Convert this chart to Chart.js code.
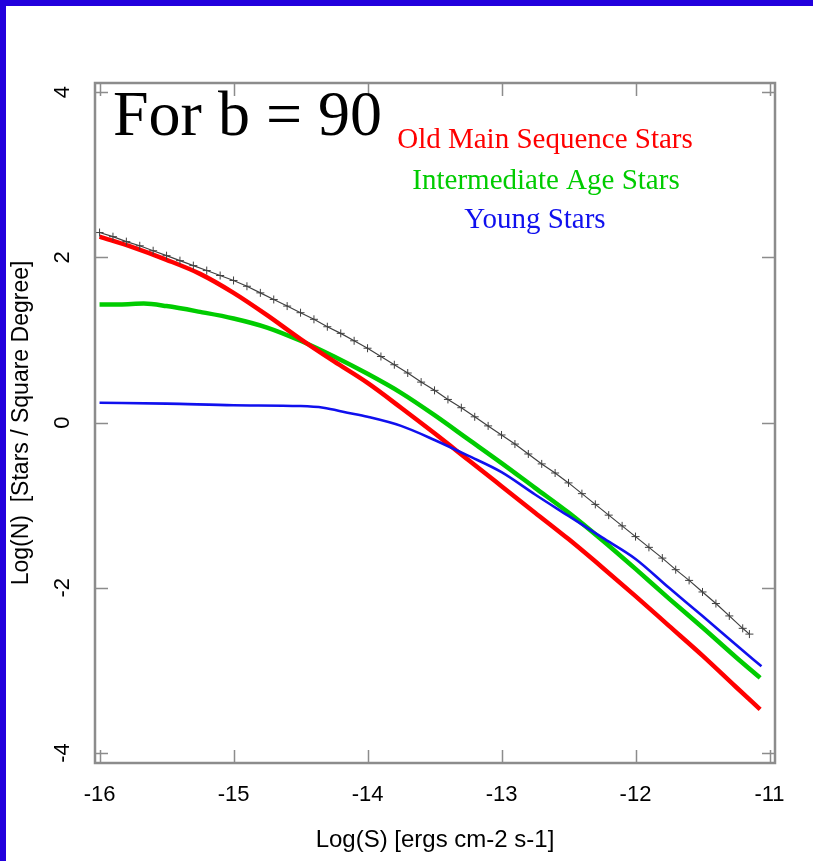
<!DOCTYPE html>
<html>
<head>
<meta charset="utf-8">
<script src="https://cdn.jsdelivr.net/npm/chart.js@4.4.1/dist/chart.umd.min.js"></script>
<style>
  html, body { margin: 0; padding: 0; background: #fff; }
  canvas { display: block; }
</style>
</head>
<body>
<canvas id="counts" width="813" height="861"></canvas>
<script>
// Log(S) / Log(N) samples for each population
const totalLogS = [-16.0, -15.9, -15.8, -15.7, -15.6, -15.5, -15.4, -15.3, -15.2, -15.1,
  -15.0, -14.9, -14.8, -14.7, -14.6, -14.5, -14.4, -14.3, -14.2, -14.1,
  -14.0, -13.9, -13.8, -13.7, -13.6, -13.5, -13.4, -13.3, -13.2, -13.1,
  -13.0, -12.9, -12.8, -12.7, -12.6, -12.5, -12.4, -12.3, -12.2, -12.1,
  -12.0, -11.9, -11.8, -11.7, -11.6, -11.5, -11.4, -11.3, -11.2, -11.15];
const totalLogN = [2.30, 2.25, 2.19, 2.14, 2.08, 2.02, 1.96, 1.90, 1.84, 1.78,
  1.72, 1.65, 1.57, 1.49, 1.41, 1.33, 1.25, 1.16, 1.08, 0.99,
  0.90, 0.80, 0.70, 0.60, 0.49, 0.39, 0.28, 0.18, 0.07, -0.04,
  -0.15, -0.26, -0.38, -0.50, -0.61, -0.73, -0.86, -0.99, -1.12, -1.25,
  -1.38, -1.51, -1.64, -1.78, -1.91, -2.05, -2.19, -2.34, -2.49, -2.56];

const oldLogS = [-16.0, -15.75, -15.5, -15.25, -15.0, -14.75, -14.5, -14.25, -14.0, -13.75,
  -13.5, -13.25, -13.0, -12.75, -12.5, -12.25, -12.0, -11.75, -11.5, -11.25, -11.07];
const oldLogN = [2.25, 2.12, 1.97, 1.80, 1.57, 1.30, 1.01, 0.74, 0.48, 0.18,
  -0.13, -0.45, -0.77, -1.09, -1.41, -1.75, -2.10, -2.46, -2.82, -3.20, -3.47];

const midLogS = [-16.0, -15.85, -15.67, -15.5, -15.25, -15.0, -14.75, -14.5, -14.25, -14.0, -13.75,
  -13.5, -13.25, -13.0, -12.75, -12.5, -12.25, -12.0, -11.75, -11.5, -11.25, -11.07];
const midLogN = [1.43, 1.43, 1.44, 1.41, 1.34, 1.26, 1.15, 0.99, 0.80, 0.59, 0.36,
  0.09, -0.20, -0.49, -0.79, -1.09, -1.42, -1.77, -2.13, -2.48, -2.84, -3.09];

const youngLogS = [-16.0, -15.5, -15.0, -14.5, -14.33, -14.15, -14.0, -13.75, -13.5, -13.25,
  -13.0, -12.75, -12.5, -12.25, -12.0, -11.75, -11.5, -11.25, -11.06];
const youngLogN = [0.24, 0.23, 0.21, 0.20, 0.18, 0.12, 0.07, -0.04, -0.21, -0.40,
  -0.60, -0.87, -1.13, -1.39, -1.65, -2.00, -2.34, -2.69, -2.95];

const xTicks = [-16, -15, -14, -13, -12, -11];
const yTicks = [-4, -2, 0, 2, 4];
const seriesNames = ['Old Main Sequence Stars', 'Intermediate Age Stars', 'Young Stars'];
const seriesColors = ['#ff0000', '#00cc00', '#1010ee'];
const heading = 'For b = 90';

const toPoints = (xs, ys) => xs.map((x, i) => ({x: x, y: ys[i]}));

// Page border, boxed frame with inward ticks, axis text and the key
const framePlugin = {
  id: 'frame',
  beforeDraw(chart) {
    const ctx = chart.ctx;
    ctx.save();
    ctx.fillStyle = '#ffffff';
    ctx.fillRect(0, 0, chart.width, chart.height);
    ctx.fillStyle = '#2200dd';
    ctx.fillRect(0, 0, chart.width, 6);
    ctx.fillRect(0, 0, 6, chart.height);
    ctx.restore();
  },
  afterDraw(chart) {
    const ctx = chart.ctx;
    const area = chart.chartArea;
    const xs = chart.scales.x;
    const ys = chart.scales.y;
    const tickLen = 13;
    ctx.save();

    ctx.strokeStyle = '#8c8c8c';
    ctx.lineWidth = 2.5;
    ctx.strokeRect(area.left, area.top, area.right - area.left, area.bottom - area.top);

    ctx.lineWidth = 1.5;
    ctx.beginPath();
    xTicks.forEach(v => {
      const px = Math.round(xs.getPixelForValue(v)) + 0.5;
      ctx.moveTo(px, area.bottom); ctx.lineTo(px, area.bottom - tickLen);
      ctx.moveTo(px, area.top); ctx.lineTo(px, area.top + tickLen);
    });
    yTicks.forEach(v => {
      const py = Math.round(ys.getPixelForValue(v)) + 0.5;
      ctx.moveTo(area.left, py); ctx.lineTo(area.left + tickLen, py);
      ctx.moveTo(area.right, py); ctx.lineTo(area.right - tickLen, py);
    });
    ctx.stroke();

    // tick labels
    ctx.fillStyle = '#000000';
    ctx.font = '22px "Liberation Sans", Arial, sans-serif';
    ctx.textAlign = 'center';
    ctx.textBaseline = 'middle';
    xTicks.forEach(v => {
      ctx.fillText(String(v), xs.getPixelForValue(v), area.bottom + 32);
    });
    yTicks.forEach(v => {
      ctx.save();
      ctx.translate(area.left - 32, ys.getPixelForValue(v));
      ctx.rotate(-Math.PI / 2);
      ctx.fillText(String(v), 0, 0);
      ctx.restore();
    });

    // axis titles
    ctx.font = '24px "Liberation Sans", Arial, sans-serif';
    ctx.textBaseline = 'alphabetic';
    ctx.fillText('Log(S) [ergs cm-2 s-1]', (area.left + area.right) / 2, 847);
    ctx.save();
    ctx.font = '23px "Liberation Sans", Arial, sans-serif';
    ctx.translate(22, (area.top + area.bottom) / 2);
    ctx.rotate(-Math.PI / 2);
    ctx.textBaseline = 'middle';
    ctx.fillText('Log(N)  [Stars / Square Degree]', 0, 0);
    ctx.restore();

    // heading and coloured key
    ctx.textAlign = 'left';
    ctx.font = '64px "Liberation Serif", "Times New Roman", serif';
    ctx.fillText(heading, area.left + 18, 135);

    ctx.textAlign = 'center';
    ctx.font = '29px "Liberation Serif", "Times New Roman", serif';
    const keyX = [545, 546, 535];
    const keyY = [148, 189, 228];
    seriesNames.forEach((name, i) => {
      ctx.fillStyle = seriesColors[i];
      ctx.fillText(name, keyX[i], keyY[i]);
    });

    ctx.restore();
  }
};

const lineChart = new Chart(document.getElementById('counts'), {
  type: 'scatter',
  data: {
    datasets: [
      {
        label: 'Total',
        data: toPoints(totalLogS, totalLogN),
        showLine: true,
        borderColor: '#404040',
        backgroundColor: '#404040',
        borderWidth: 1.2,
        pointStyle: 'cross',
        pointRadius: 4,
        pointBorderWidth: 1,
        order: 0
      },
      {
        label: seriesNames[2],
        data: toPoints(youngLogS, youngLogN),
        showLine: true,
        borderColor: seriesColors[2],
        borderWidth: 2.6,
        pointRadius: 0,
        cubicInterpolationMode: 'monotone',
        order: 1
      },
      {
        label: seriesNames[0],
        data: toPoints(oldLogS, oldLogN),
        showLine: true,
        borderColor: seriesColors[0],
        borderWidth: 4.5,
        pointRadius: 0,
        cubicInterpolationMode: 'monotone',
        order: 2
      },
      {
        label: seriesNames[1],
        data: toPoints(midLogS, midLogN),
        showLine: true,
        borderColor: seriesColors[1],
        borderWidth: 4.5,
        pointRadius: 0,
        cubicInterpolationMode: 'monotone',
        order: 3
      }
    ]
  },
  options: {
    responsive: false,
    animation: false,
    devicePixelRatio: 1,
    layout: {
      padding: {left: 95, right: 38, top: 83, bottom: 98}
    },
    plugins: {
      legend: {display: false},
      tooltip: {enabled: false}
    },
    scales: {
      x: {type: 'linear', min: -16.034, max: -10.959, display: false},
      y: {type: 'linear', min: -4.12, max: 4.11, display: false}
    }
  },
  plugins: [framePlugin]
});
</script>
</body>
</html>
